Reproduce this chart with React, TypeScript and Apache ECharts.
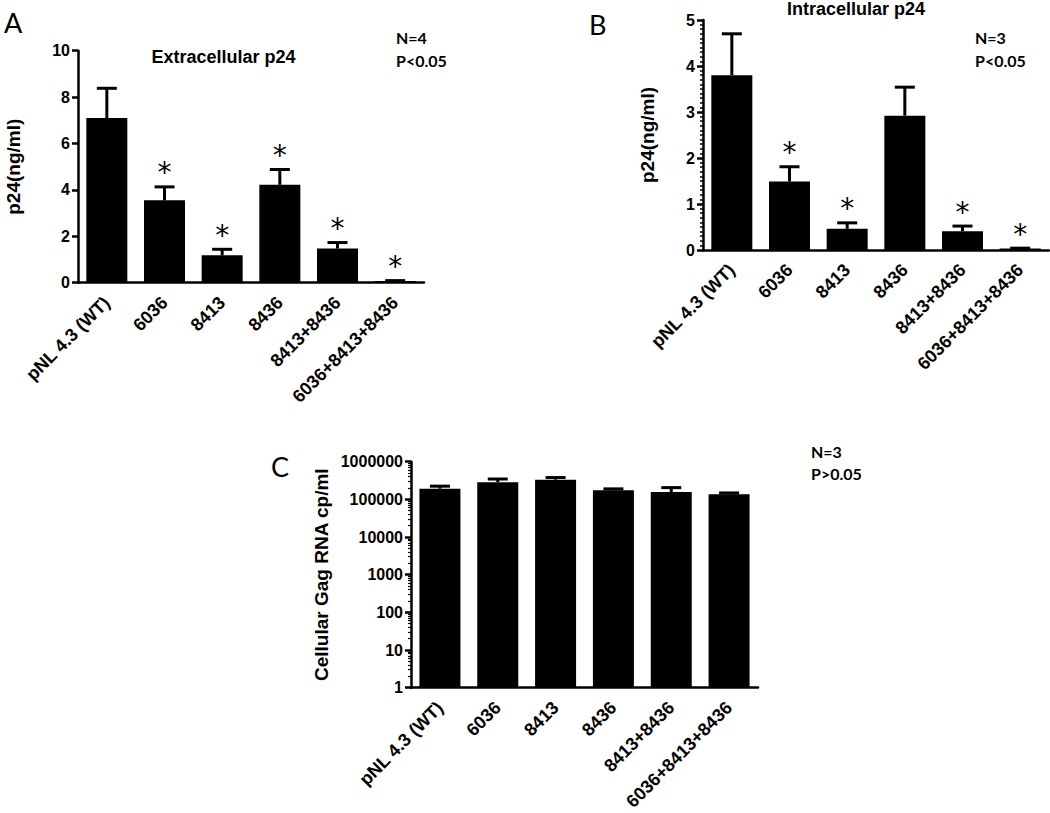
import React, { useEffect, useRef } from "react";
import * as echarts from "echarts";

const categories = ["pNL 4.3 (WT)", "6036", "8413", "8436", "8413+8436", "6036+8413+8436"];

// Panel A: Extracellular p24 (ng/ml), mean and SEM
const extracellular = [7.1, 3.55, 1.18, 4.22, 1.47, 0.07];
const extracellularSem = [1.28, 0.58, 0.26, 0.66, 0.26, 0.02];
const extracellularSig = [false, true, true, true, true, true];

// Panel B: Intracellular p24 (ng/ml)
const intracellular = [3.8, 1.49, 0.46, 2.92, 0.41, 0.03];
const intracellularSem = [0.9, 0.32, 0.13, 0.62, 0.11, 0.01];
const intracellularSig = [false, true, true, false, true, true];

// Panel C: Cellular Gag RNA cp/ml
const gagRna = [192000, 285000, 333000, 174000, 157000, 136000];
const gagRnaSem = [32000, 62000, 47000, 16000, 48000, 12000];

const ticksA = [0, 2, 4, 6, 8, 10];
const ticksB = [0, 1, 2, 3, 4, 5];
const ticksC = [1, 10, 100, 1000, 10000, 100000, 1000000];

const BOLD = "Liberation Sans";
const CAL = "Lato";

function errData(mean: number[], sem: number[]) {
  return mean.map((m, i) => [i, m, m + sem[i]]);
}
function starData(mean: number[], sem: number[], sig: boolean[]) {
  return mean.map((m, i) => (sig[i] ? [i, m + sem[i]] : null)).filter((d) => d !== null);
}

const errRender = (params: any, api: any) => {
  const base = api.coord([api.value(0), api.value(1)]);
  const top = api.coord([api.value(0), api.value(2)]);
  const st = { stroke: "#000", lineWidth: 3 };
  return {
    type: "group",
    children: [
      { type: "line", shape: { x1: base[0], y1: base[1], x2: base[0], y2: top[1] }, style: st },
      { type: "line", shape: { x1: base[0] - 10, y1: top[1], x2: base[0] + 10, y2: top[1] }, style: st },
    ],
  };
};

const starRender = (params: any, api: any) => {
  const p = api.coord([api.value(0), api.value(1)]);
  return {
    type: "text",
    x: p[0],
    y: p[1] - 14,
    style: {
      text: "*",
      fontSize: 28,
      fontFamily: "DejaVu Sans",
      fill: "#000",
      textAlign: "center",
      textVerticalAlign: "middle",
    },
  };
};

function xAxis(gridIndex: number) {
  return {
    type: "category",
    gridIndex,
    data: categories,
    axisLine: { lineStyle: { color: "#000", width: 2.5 } },
    axisTick: { alignWithLabel: true, length: 6, lineStyle: { color: "#000", width: 2.5 } },
    axisLabel: {
      interval: 0,
      rotate: 45,
      margin: 17,
      color: "#000",
      fontFamily: BOLD,
      fontWeight: "bold",
      fontSize: 18,
    },
  };
}

const yLabel = {
  color: "#000",
  fontFamily: BOLD,
  fontWeight: "bold" as const,
  fontSize: 16,
  margin: 8,
};
const yName = {
  color: "#000",
  fontFamily: BOLD,
  fontWeight: "bold" as const,
  fontSize: 19,
};

export default function App() {
  const ref = useRef<HTMLDivElement>(null);
  useEffect(() => {
    document.body.style.margin = "0";
    const chart = echarts.init(ref.current!, null, { renderer: "svg" });
    const option: any = {
      animation: false,
      backgroundColor: "#fff",
      grid: [
        { left: 78, top: 50.7, width: 346, height: 232 },
        { left: 703, top: 20, width: 346, height: 230 },
        { left: 411, top: 461.7, width: 347, height: 231 },
      ],
      xAxis: [xAxis(0), xAxis(1), xAxis(2)],
      yAxis: [
        {
          type: "value",
          gridIndex: 0,
          min: ticksA[0],
          max: ticksA[ticksA.length - 1],
          interval: 2,
          name: "p24(ng/ml)",
          nameLocation: "middle",
          nameGap: 55,
          nameTextStyle: yName,
          splitLine: { show: false },
          axisLine: { show: true, lineStyle: { color: "#000", width: 2.5 } },
          axisTick: { show: true, length: 6, lineStyle: { color: "#000", width: 2.5 } },
          axisLabel: yLabel,
        },
        {
          type: "value",
          gridIndex: 1,
          min: ticksB[0],
          max: ticksB[ticksB.length - 1],
          interval: 1,
          name: "p24(ng/ml)",
          nameLocation: "middle",
          nameGap: 46,
          nameTextStyle: yName,
          splitLine: { show: false },
          axisLine: { show: true, lineStyle: { color: "#000", width: 2.5 } },
          axisTick: { show: true, length: 6, lineStyle: { color: "#000", width: 2.5 } },
          minorTick: { show: true, splitNumber: 10, length: 3, lineStyle: { color: "#000", width: 1.5 } },
          axisLabel: yLabel,
        },
        {
          type: "log",
          logBase: 10,
          gridIndex: 2,
          min: ticksC[0],
          max: ticksC[ticksC.length - 1],
          name: "Cellular Gag RNA cp/ml",
          nameLocation: "middle",
          nameGap: 80,
          nameTextStyle: yName,
          splitLine: { show: false },
          axisLine: { show: true, lineStyle: { color: "#000", width: 2.5 } },
          axisTick: { show: true, length: 6, lineStyle: { color: "#000", width: 2.5 } },
          minorTick: { show: true, splitNumber: 9, length: 3, lineStyle: { color: "#000", width: 1.2 } },
          axisLabel: { ...yLabel, formatter: (v: number) => String(Math.round(v)) },
        },
      ],
      series: [
        { type: "bar", xAxisIndex: 0, yAxisIndex: 0, data: extracellular, barWidth: 41, itemStyle: { color: "#000" } },
        { type: "custom", xAxisIndex: 0, yAxisIndex: 0, data: errData(extracellular, extracellularSem), renderItem: errRender, z: 3 },
        { type: "custom", xAxisIndex: 0, yAxisIndex: 0, data: starData(extracellular, extracellularSem, extracellularSig), renderItem: starRender, z: 4 },
        { type: "bar", xAxisIndex: 1, yAxisIndex: 1, data: intracellular, barWidth: 41, itemStyle: { color: "#000" } },
        { type: "custom", xAxisIndex: 1, yAxisIndex: 1, data: errData(intracellular, intracellularSem), renderItem: errRender, z: 3 },
        { type: "custom", xAxisIndex: 1, yAxisIndex: 1, data: starData(intracellular, intracellularSem, intracellularSig), renderItem: starRender, z: 4 },
        { type: "bar", xAxisIndex: 2, yAxisIndex: 2, data: gagRna, barWidth: 41, itemStyle: { color: "#000" } },
        { type: "custom", xAxisIndex: 2, yAxisIndex: 2, data: errData(gagRna, gagRnaSem), renderItem: errRender, z: 3 },
      ],
      graphic: [
        { type: "text", left: 4, top: 9, style: { text: "A", fontSize: 27, fontFamily: CAL, fill: "#000" } },
        { type: "text", left: 589, top: 11, style: { text: "B", fontSize: 27, fontFamily: CAL, fill: "#000" } },
        { type: "text", left: 271, top: 453, style: { text: "C", fontSize: 27, fontFamily: CAL, fill: "#000" } },
        { type: "text", x: 223.5, y: 57, style: { text: "Extracellular p24", fontSize: 18, fontWeight: "bold", fontFamily: BOLD, fill: "#000", textAlign: "center", textVerticalAlign: "middle" } },
        { type: "text", x: 856, y: 9, style: { text: "Intracellular p24", fontSize: 18, fontWeight: "bold", fontFamily: BOLD, fill: "#000", textAlign: "center", textVerticalAlign: "middle" } },
        { type: "text", x: 396, y: 37.5, style: { text: "N=4", fontSize: 16, fontWeight: "bold", fontFamily: CAL, fill: "#000", textVerticalAlign: "middle" } },
        { type: "text", x: 396, y: 60.5, style: { text: "P<0.05", fontSize: 16, fontWeight: "bold", fontFamily: CAL, fill: "#000", textVerticalAlign: "middle" } },
        { type: "text", x: 975, y: 37, style: { text: "N=3", fontSize: 16, fontWeight: "bold", fontFamily: CAL, fill: "#000", textVerticalAlign: "middle" } },
        { type: "text", x: 975, y: 60, style: { text: "P<0.05", fontSize: 16, fontWeight: "bold", fontFamily: CAL, fill: "#000", textVerticalAlign: "middle" } },
        { type: "text", x: 811, y: 451, style: { text: "N=3", fontSize: 16, fontWeight: "bold", fontFamily: CAL, fill: "#000", textVerticalAlign: "middle" } },
        { type: "text", x: 811, y: 473.5, style: { text: "P>0.05", fontSize: 16, fontWeight: "bold", fontFamily: CAL, fill: "#000", textVerticalAlign: "middle" } },
      ],
    };
    chart.setOption(option);
    return () => chart.dispose();
  }, []);
  return <div ref={ref} style={{ width: 1050, height: 813 }} />;
}
